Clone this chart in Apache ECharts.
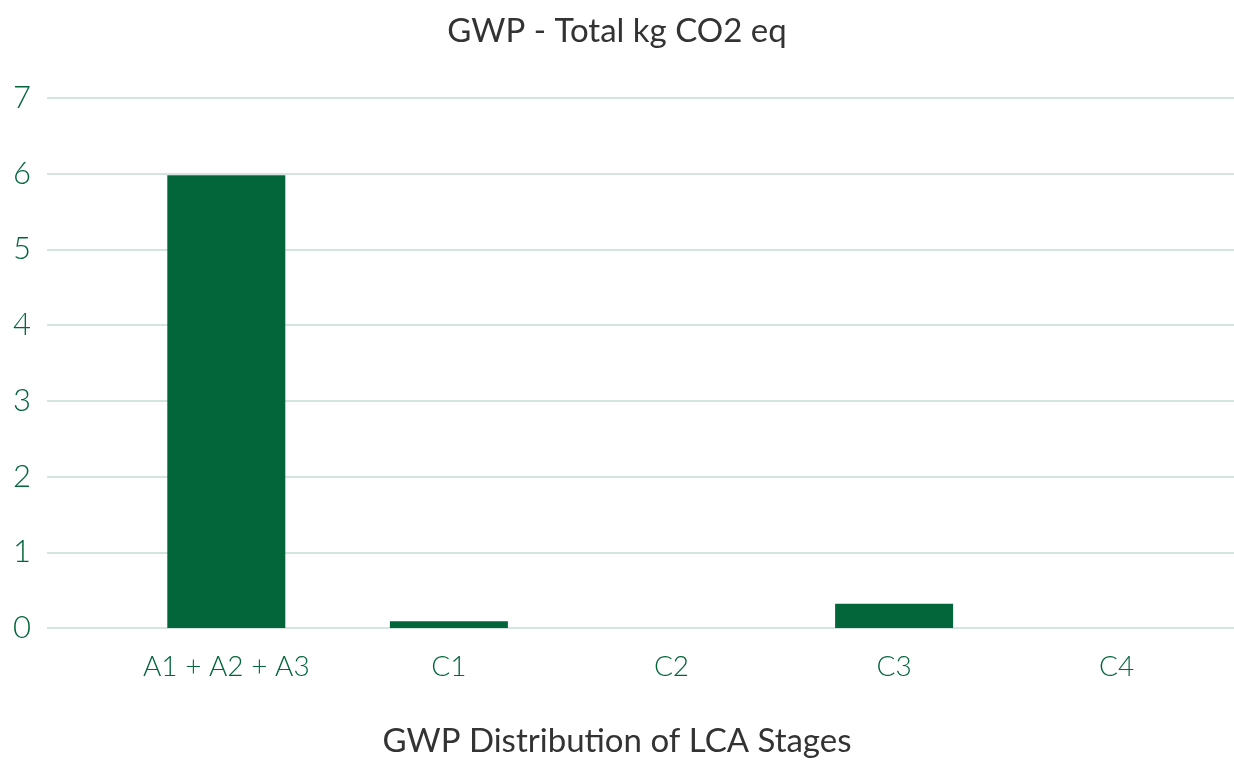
<!DOCTYPE html>
<html>
<head>
<meta charset="utf-8">
<script src="https://cdn.jsdelivr.net/npm/echarts@6/dist/echarts.min.js"></script>
<style>
  html, body { margin: 0; padding: 0; background: #fff; }
  #main { width: 1234px; height: 760px; }
</style>
</head>
<body>
<div id="main"></div>
<script>
// LCA stages and GWP values (kg CO2 eq)
const stages = ['A1 + A2 + A3', 'C1', 'C2', 'C3', 'C4'];
const gwpValues = [5.98, 0.09, 0, 0.32, 0];
const yTicks = [0, 1, 2, 3, 4, 5, 6, 7];

const green = '#03663a';
const fontFam = 'Lato, "Noto Sans", sans-serif';

const chart = echarts.init(document.getElementById('main'));

const option = {
    animation: false,
    title: [
        {
            text: 'GWP - Total kg CO2 eq',
            left: 'center',
            top: 10,
            textStyle: { color: '#333', fontSize: 33, fontWeight: 'normal', fontFamily: fontFam }
        },
        {
            text: 'GWP Distribution of LCA Stages',
            left: 'center',
            top: 720,
            textStyle: { color: '#333', fontSize: 33, fontWeight: 'normal', fontFamily: fontFam }
        }
    ],
    grid: [
        // grid for the value axis and grid lines
        { left: 47, right: 0, top: 98, bottom: 132 },
        // grid for the bars and category labels
        { left: 115, right: 6, top: 98, bottom: 132 }
    ],
    xAxis: [
        {
            type: 'category', gridIndex: 0, data: stages,
            axisLine: { show: false }, axisTick: { show: false }, axisLabel: { show: false }
        },
        {
            type: 'category', gridIndex: 1, data: stages,
            axisLine: { show: false }, axisTick: { show: false },
            axisLabel: { color: green, fontSize: 28, fontFamily: fontFam, fontWeight: 300, margin: 25 }
        }
    ],
    yAxis: [
        {
            type: 'value', gridIndex: 0,
            min: yTicks[0], max: yTicks[yTicks.length - 1], interval: 1,
            axisLine: { show: false }, axisTick: { show: false },
            axisLabel: { color: green, fontSize: 31, fontFamily: fontFam, fontWeight: 300, margin: 16 },
            splitLine: { lineStyle: { color: '#d5e4df', width: 2 } }
        },
        {
            type: 'value', gridIndex: 1,
            min: yTicks[0], max: yTicks[yTicks.length - 1], interval: 1,
            axisLine: { show: false }, axisTick: { show: false },
            axisLabel: { show: false }, splitLine: { show: false }
        }
    ],
    series: [{
        type: 'bar',
        xAxisIndex: 1,
        yAxisIndex: 1,
        data: gwpValues,
        barWidth: 118,
        itemStyle: { color: green }
    }]
};

chart.setOption(option);
</script>
</body>
</html>
